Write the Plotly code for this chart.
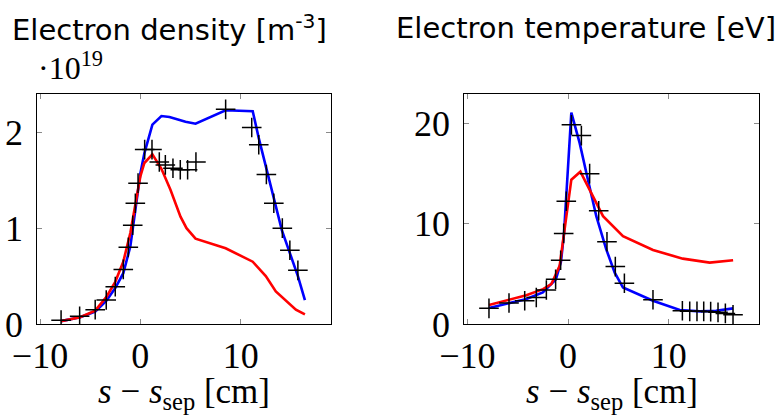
import plotly.graph_objects as go

# ---------------- data ----------------
# Electron density (units of 1e19 m^-3)
ne_exp_s = [-7.9, -6.05, -4.5, -3.4, -2.5, -1.7, -1.2, -0.76, -0.5, -0.23, 0.43, 1.16,
            1.89, 2.49, 3.25, 3.98, 4.71, 5.54, 8.5, 11.1, 11.8, 12.56, 13.3, 14.15, 14.9, 15.7]
ne_exp = [0.04, 0.08, 0.15, 0.25, 0.39, 0.57, 0.80, 1.03, 1.26, 1.47, 1.82, 1.82,
          1.69, 1.66, 1.625, 1.61, 1.61, 1.69, 2.24, 2.05, 1.87, 1.56, 1.26, 1.0, 0.77, 0.56]

ne_blue_s = [-7.9, -6.0, -4.5, -3.4, -2.5, -1.7, -1.0, -0.5, 0.0, 0.4, 1.2, 2.1, 2.9, 4.5,
             5.5, 8.5, 11.2, 11.8, 12.6, 13.3, 14.1, 14.9, 15.7, 16.4]
ne_blue = [0.03, 0.07, 0.13, 0.24, 0.375, 0.53, 0.81, 1.19, 1.57, 1.78, 2.08, 2.17, 2.16, 2.11,
           2.09, 2.23, 2.22, 1.94, 1.61, 1.30, 0.98, 0.74, 0.50, 0.25]

ne_red_s = [-7.9, -6.0, -4.5, -3.4, -2.5, -1.7, -1.0, -0.5, 0.0, 0.4, 1.2, 2.1, 3.0, 4.0,
            4.6, 5.5, 8.5, 11.2, 12.5, 13.5, 14.5, 15.5, 16.4]
ne_red = [0.03, 0.07, 0.14, 0.28, 0.44, 0.65, 0.95, 1.23, 1.54, 1.68, 1.77, 1.62, 1.40, 1.12,
          1.0, 0.89, 0.79, 0.65, 0.50, 0.34, 0.24, 0.15, 0.10]

# Electron temperature (eV)
te_exp_s = [-7.85, -5.86, -4.3, -3.15, -2.15, -1.23, -0.73, -0.43, -0.17, 0.34, 1.33, 2.15,
            3.05, 3.87, 4.7, 5.6, 8.44, 11.36, 12.09, 12.81, 13.48, 14.17, 14.9, 15.63, 16.39]
te_exp = [1.56, 2.09, 2.32, 2.65, 3.4, 4.47, 6.36, 9.04, 12.25, 19.87, 18.8, 15.0,
          11.3, 8.2, 5.73, 4.07, 2.42, 1.32, 1.26, 1.26, 1.26, 1.23, 1.16, 1.06, 0.93]

te_blue_s = [-7.85, -5.86, -4.2, -2.5, -1.2, -0.7, -0.4, 0.33, 1.16, 1.82, 2.81, 3.8, 4.64,
             5.46, 8.44, 11.1, 13.1, 14.7, 16.4]
te_blue = [1.59, 2.09, 2.48, 3.15, 4.47, 6.2, 9.0, 21.1, 18.05, 15.1, 10.76, 7.45, 5.13,
           3.64, 2.32, 1.39, 1.26, 1.32, 1.56]

te_red_s = [-7.85, -5.8, -4.14, -2.48, -1.66, -0.83, -0.33, 0.33, 1.23, 2.15, 3.48, 5.46,
            8.44, 11.4, 14.07, 16.4]
te_red = [1.89, 2.42, 2.88, 3.48, 3.97, 5.8, 9.4, 14.4, 15.2, 13.4, 10.76, 8.77,
          7.38, 6.52, 6.13, 6.36]

x_ticks = [-10, 0, 10]
ne_ticks = [0, 1, 2]
te_ticks = [0, 10, 20]

# ---------------- figure ----------------
W, H = 783, 415
BLUE, RED = "#0000ff", "#ff0000"
SERIF = "Liberation Serif"
SANS = "DejaVu Sans"

fig = go.Figure()

def add_panel(xa, ya, sb, yb, sr, yr, se, ye):
    fig.add_trace(go.Scatter(x=sb, y=yb, mode="lines", line=dict(color=BLUE, width=2.6),
                             xaxis=xa, yaxis=ya, showlegend=False))
    fig.add_trace(go.Scatter(x=sr, y=yr, mode="lines", line=dict(color=RED, width=2.6),
                             xaxis=xa, yaxis=ya, showlegend=False))
    fig.add_trace(go.Scatter(x=se, y=ye, mode="markers",
                             marker=dict(symbol="cross-thin", size=14, color="black",
                                         line=dict(color="black", width=1.5)),
                             xaxis=xa, yaxis=ya, showlegend=False))

add_panel("x", "y", ne_blue_s, ne_blue, ne_red_s, ne_red, ne_exp_s, ne_exp)
add_panel("x2", "y2", te_blue_s, te_blue, te_red_s, te_red, te_exp_s, te_exp)

def px2x(px):
    return px / W

def px2y(py):
    return 1 - py / H

ydom = [px2y(324), px2y(94)]
axis_common = dict(showline=True, linecolor="black", linewidth=1.3, mirror="ticks",
                   ticks="inside", ticklen=5, tickwidth=1, tickcolor="#8a8a8a",
                   showgrid=False, zeroline=False,
                   tickfont=dict(family=SERIF, size=36, color="black"))

fig.update_layout(
    width=W, height=H,
    margin=dict(l=0, r=0, t=0, b=0, autoexpand=False),
    paper_bgcolor="white", plot_bgcolor="white",
    xaxis=dict(domain=[px2x(37.3), px2x(331)], range=[-10.27, 19.0], tickvals=x_ticks,
               anchor="y", **axis_common),
    yaxis=dict(domain=ydom, range=[0, 2.4], tickvals=ne_ticks, anchor="x",
               ticklabelstandoff=6, **axis_common),
    xaxis2=dict(domain=[px2x(464.3), px2x(759)], range=[-10.3, 18.97], tickvals=x_ticks,
                anchor="y2", **axis_common),
    yaxis2=dict(domain=ydom, range=[0, 22.95], tickvals=te_ticks, anchor="x2",
                ticklabelstandoff=6, **axis_common),
)

ann = []
ann.append(dict(text="Electron density [m<sup>-3</sup>]", x=px2x(169), y=px2y(28),
                xanchor="center", yanchor="middle",
                font=dict(family=SANS, size=29, color="black")))
ann.append(dict(text="Electron temperature [eV]", x=px2x(586), y=px2y(28),
                xanchor="center", yanchor="middle",
                font=dict(family=SANS, size=29, color="black")))
ann.append(dict(text="\u00b710<sup>19</sup>", x=px2x(36), y=px2y(66),
                xanchor="left", yanchor="middle",
                font=dict(family=SERIF, size=32, color="black")))
xlabel = "<i>s</i> \u2212 <i>s</i><sub>sep</sub> [cm]"
ann.append(dict(text=xlabel, x=px2x(184), y=px2y(393), xanchor="center", yanchor="middle",
                font=dict(family=SERIF, size=35, color="black")))
ann.append(dict(text=xlabel, x=px2x(611.7), y=px2y(393), xanchor="center", yanchor="middle",
                font=dict(family=SERIF, size=35, color="black")))
for a in ann:
    a.update(xref="paper", yref="paper", showarrow=False)
fig.update_layout(annotations=ann)

fig.write_html("out.html", config={"displayModeBar": False},
               post_script="document.body.style.margin='0';document.body.style.padding='0';")
